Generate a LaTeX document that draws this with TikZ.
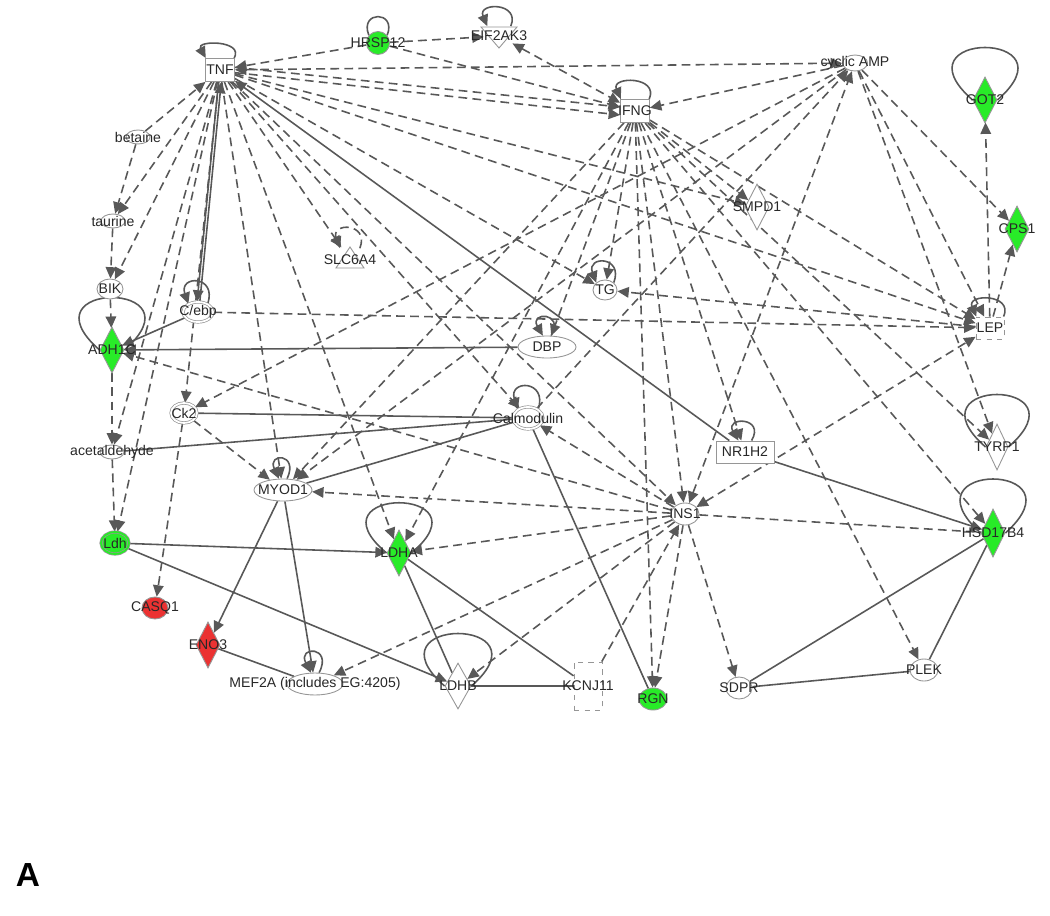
\documentclass[tikz,border=0pt]{standalone}
\usepackage{fontspec}
\setmainfont{Liberation Sans}
\usepackage{xcolor}
\usepackage{tikz}
\usetikzlibrary{arrows.meta,shapes.geometric,positioning,backgrounds}

\definecolor{edgegray}{RGB}{88,88,88}
\definecolor{linegray}{RGB}{150,150,150}
\definecolor{txtgray}{RGB}{40,40,40}
\definecolor{upgreen}{RGB}{40,235,40}
\definecolor{downred}{RGB}{235,50,50}

\begin{document}
\begin{tikzpicture}[x=0.02cm, y=-0.02cm,
	every label/.style={font=\fontsize{8}{9.6}\selectfont, text=txtgray, inner sep=0pt},
	gene/.style={draw=linegray, line width=0.5pt, fill=white, inner sep=0pt},
	box/.style={gene, rectangle, minimum width=0.58cm, minimum height=0.46cm},
	wbox/.style={box, minimum width=1.16cm, minimum height=0.44cm},
	dbox/.style={box, dashed},
	oval/.style={gene, ellipse, minimum width=0.54cm, minimum height=0.42cm},
	soval/.style={oval, minimum width=0.48cm, minimum height=0.28cm},
	woval/.style={oval, minimum width=1.16cm, minimum height=0.44cm},
	dbl/.style={oval, double=white, double distance=1pt, line width=0.4pt},
	dia/.style={gene, diamond, minimum width=0.48cm, minimum height=0.92cm},
	hit/.style={circle, inner sep=0pt, minimum size=0.6cm},
	tri/.style={draw=linegray, line width=0.5pt, fill=white},
	rel/.style={draw=edgegray, line width=0.9pt, dash pattern=on 5pt off 3pt, -{Triangle[length=6.5pt,width=6pt]}},
	relb/.style={rel, {Triangle[length=6.5pt,width=6pt]}-{Triangle[length=6.5pt,width=6pt]}},
	reln/.style={rel, -},
	act/.style={draw=edgegray, line width=0.9pt, -{Triangle[length=6.5pt,width=6pt]}},
	bind/.style={draw=edgegray, line width=0.9pt},
	selfl/.style={act},
	ring/.style={bind}]
	\useasboundingbox (0,0) rectangle (1050,915);

	% triangles drawn as shapes
	\filldraw[tri] (481,27) -- (517,27) -- (499,48) -- cycle;
	\filldraw[tri] (336,268) -- (364,268) -- (350,247) -- cycle;

	% molecules
	\node[box, label=center:TNF] (tnf) at (220,70) {};
	\node[gene, circle, fill=upgreen, minimum size=0.46cm, label=center:HRSP12] (hrsp) at (378,43) {};
	\node[hit, label=center:EIF2AK3] (eif) at (499,36) {};
	\node[oval, minimum width=0.5cm, minimum height=0.32cm, label=center:cyclic AMP] (camp) at (855,63) {};
	\node[box, label=center:IFNG] (ifng) at (635,111) {};
	\node[dia, fill=upgreen, label=center:GOT2] (got) at (985,100) {};
	\node[soval, label=center:betaine] (bet) at (138,137) {};
	\node[soval, label=center:taurine] (tau) at (113,221) {};
	\node[dia, label=center:SMPD1] (smpd) at (757,207) {};
	\node[dia, fill=upgreen, label=center:CPS1] (cps) at (1017,229) {};
	\node[hit, label=center:SLC6A4] (slc) at (350,260) {};
	\node[oval, minimum width=0.48cm, minimum height=0.4cm, label=center:TG] (tg) at (605,290) {};
	\node[oval, minimum width=0.52cm, minimum height=0.4cm, label=center:BIK] (bik) at (110,289) {};
	\node[dbl, minimum width=0.6cm, minimum height=0.4cm, label=center:C/ebp] (cebp) at (198,312) {};
	\node[dbox, minimum width=0.56cm, minimum height=0.44cm, label=center:LEP] (lep) at (990,328) {};
	\node[dia, fill=upgreen, label=center:ADH1C] (adh) at (112,350) {};
	\node[woval, label=center:DBP] (dbp) at (547,347) {};
	\node[dbl, minimum width=0.52cm, minimum height=0.4cm, label=center:Ck2] (ck2) at (184,413) {};
	\node[dbl, minimum width=0.6cm, minimum height=0.44cm, label=center:Calmodulin] (calm) at (528,418) {};
	\node[wbox, label=center:NR1H2] (nr) at (745,452) {};
	\node[dia, minimum width=0.44cm, label=center:TYRP1] (tyrp) at (997,447) {};
	\node[soval, label=center:acetaldehyde] (acet) at (112,452) {};
	\node[woval, label=center:MYOD1] (myod) at (283,490) {};
	\node[oval, minimum width=0.56cm, minimum height=0.44cm, label=center:INS1] (ins) at (685,514) {};
	\node[dia, fill=upgreen, minimum height=0.96cm, label=center:HSD17B4] (hsd) at (993,533) {};
	\node[dbl, fill=upgreen, double=upgreen, minimum width=0.56cm, minimum height=0.44cm, label=center:Ldh] (ldh) at (115,543) {};
	\node[dia, fill=upgreen, label=center:LDHA] (ldha) at (399,553) {};
	\node[oval, fill=downred, minimum width=0.52cm, minimum height=0.44cm, label=center:CASQ1] (casq) at (155,608) {};
	\node[dia, fill=downred, label=center:ENO3] (eno) at (208,645) {};
	\node[woval, minimum width=1.12cm, label={center:{MEF2A (includes EG:4205)}}] (mef) at (315,684) {};
	\node[dia, minimum width=0.52cm, label=center:LDHB] (ldhb) at (458,686) {};
	\node[dbox, minimum width=0.56cm, minimum height=0.96cm, label=center:KCNJ11] (kcnj) at (588,686) {};
	\node[oval, fill=upgreen, minimum width=0.56cm, minimum height=0.44cm, label=center:RGN] (rgn) at (653,699) {};
	\node[oval, minimum width=0.52cm, minimum height=0.44cm, label=center:SDPR] (sdpr) at (739,688) {};
	\node[oval, minimum width=0.56cm, minimum height=0.44cm, label=center:PLEK] (plek) at (924,670) {};

	\node[font=\fontsize{19}{22}\selectfont\bfseries, inner sep=0pt] (panel) at (28,875) {A};

	\begin{scope}[on background layer]
		\fill[white] (0,0) rectangle (1050,915);

		% self loops
		\draw[selfl] (tnf.40) .. controls +(10,-18) and +(-10,-18) .. (tnf.140);
		\draw[bind] (hrsp.40) .. controls +(10,-25) and +(-10,-25) .. (hrsp.140);
		\draw[selfl] (eif.40) .. controls +(10,-24) and +(-10,-24) .. (eif.140);
		\draw[selfl] (ifng.40) .. controls +(10,-23) and +(-10,-23) .. (ifng.140);
		\draw[selfl, dash pattern=on 5pt off 3pt] (slc.50) .. controls +(10,-26) and +(-10,-26) .. (slc.130);
		\draw[selfl] (cebp.40) .. controls +(10,-29) and +(-10,-29) .. (cebp.140);
		\draw[selfl] (tg.40) .. controls +(10,-27) and +(-10,-27) .. (tg.140);
		\draw[selfl] (dbp.70) .. controls +(14,-24) and +(-14,-24) .. (dbp.110);
		\draw[selfl] (calm.40) .. controls +(10,-30) and +(-10,-30) .. (calm.140);
		\draw[selfl] (nr.60) .. controls +(14,-24) and +(-14,-24) .. (nr.120);
		\draw[selfl] (myod.70) .. controls +(12,-26) and +(-12,-26) .. (myod.110);
		\draw[selfl] (mef.70) .. controls +(14,-27) and +(-14,-27) .. (mef.110);
		\draw[selfl] (lep.40) .. controls +(10,-23) and +(-10,-23) .. (lep.140);
		\draw[ring] (got.west) .. controls +(-80,-70) and +(80,-70) .. (got.east);
		\draw[ring] (tyrp.west) .. controls +(-80,-70) and +(80,-70) .. (tyrp.east);
		\draw[ring] (hsd.west) .. controls +(-80,-72) and +(80,-72) .. (hsd.east);
		\draw[ring] (adh.west) .. controls +(-80,-70) and +(80,-70) .. (adh.east);
		\draw[ring] (ldha.west) .. controls +(-80,-67) and +(80,-67) .. (ldha.east);
		\draw[ring] (ldhb.west) .. controls +(-80,-70) and +(80,-70) .. (ldhb.east);

		% relations round TNF
		\draw[rel] (hrsp) -- (tnf);
		\draw[rel] (hrsp) -- (eif);
		\draw[rel] (hrsp) -- (ifng);
		\draw[relb] (eif) -- (ifng);
		\draw[relb] (tnf) -- (camp);
		\draw[rel] (camp) -- (ifng);
		\draw[rel] (tnf.10) -- (ifng.165);
		\draw[rel] (tnf.-10) -- (ifng.195);
		\draw[rel] (tnf) -- (smpd);
		\draw[rel] (tnf) -- (lep);
		\draw[rel] (tnf) -- (tg);
		\draw[rel] (tnf) -- (slc);
		\draw[rel] (tnf) -- (calm);
		\draw[rel] (tnf) -- (ins);
		\draw[rel] (tnf) -- (ldha);
		\draw[rel] (tnf) -- (myod);
		\draw[rel] (tnf) -- (ck2);
		\draw[rel] (tnf) -- (tau);
		\draw[rel] (tnf) -- (bik);
		\draw[rel] (tnf) -- (acet);
		\draw[rel] (tnf) -- (ldh);
		\draw[rel] (bet) -- (tnf);
		\draw[rel] (bet) -- (tau);
		\draw[rel] (tau) -- (bik);
		\draw[rel] (bik) -- (adh);
		\draw[rel] (adh) -- (acet);
		\draw[rel] (acet) -- (ldh);
		\draw[act] (tnf.-97) -- (cebp.95);
		\draw[act] (cebp.80) -- (tnf.-84);
		\draw[act] (nr) -- (tnf);

		% C/ebp, Ck2, Calmodulin
		\draw[act] (cebp) -- (adh);
		\draw[act] (dbp) -- (adh);
		\draw[rel] (cebp) -- (lep);
		\draw[rel] (ck2) -- (casq);
		\draw[rel] (ck2) -- (myod);
		\draw[rel] (camp) -- (ck2);
		\draw[bind] (ck2) -- (calm);
		\draw[bind] (acet) -- (calm);
		\draw[bind] (myod) -- (calm);
		\draw[bind] (calm) -- (rgn);
		\draw[rel] (calm) -- (camp);
		\draw[rel] (ifng) -- (myod);
		\draw[rel] (camp) -- (myod);

		% INS1
		\draw[rel] (ins) -- (myod);
		\draw[rel] (ins) -- (adh);
		\draw[rel] (ins) -- (ldha);
		\draw[rel] (ins) -- (mef);
		\draw[rel] (ins) -- (ldhb);
		\draw[rel] (kcnj) -- (ins);
		\draw[rel] (ins) -- (rgn);
		\draw[rel] (ins) -- (sdpr);
		\draw[rel] (ins) -- (calm);
		\draw[reln] (ins) -- (hsd);
		\draw[relb] (ins) -- (lep);
		\draw[relb] (ins) -- (camp);

		% cyclic AMP and LEP
		\draw[rel] (camp) -- (tyrp);
		\draw[rel] (camp) -- (lep);
		\draw[rel] (camp) -- (cps);
		\draw[rel] (lep) -- (cps);
		\draw[rel] (lep) -- (got);
		\draw[rel] (lep) -- (tg);

		% IFNG
		\draw[rel] (ifng) -- (tg);
		\draw[rel] (ifng) -- (dbp);
		\draw[rel] (ifng) -- (ins);
		\draw[rel] (ifng) -- (nr);
		\draw[rel] (ifng) -- (ldha);
		\draw[rel] (ifng) -- (rgn);
		\draw[rel] (ifng) -- (plek);
		\draw[rel] (ifng) -- (hsd);
		\draw[rel] (ifng) -- (tyrp);
		\draw[rel] (ifng) -- (smpd);
		\draw[rel] (ifng) -- (lep);

		% lower part
		\draw[act] (nr) -- (hsd);
		\draw[act] (ldh) -- (ldha);
		\draw[act] (ldh) -- (ldhb);
		\draw[act] (myod) -- (eno);
		\draw[act] (myod) -- (mef);
		\draw[bind] (eno) -- (mef);
		\draw[bind] (ldha) -- (ldhb);
		\draw[bind] (ldha) -- (kcnj);
		\draw[bind] (ldhb) -- (kcnj);
		\draw[bind] (hsd) -- (sdpr);
		\draw[bind] (hsd) -- (plek);
		\draw[bind] (sdpr) -- (plek);
	\end{scope}
\end{tikzpicture}
\end{document}
